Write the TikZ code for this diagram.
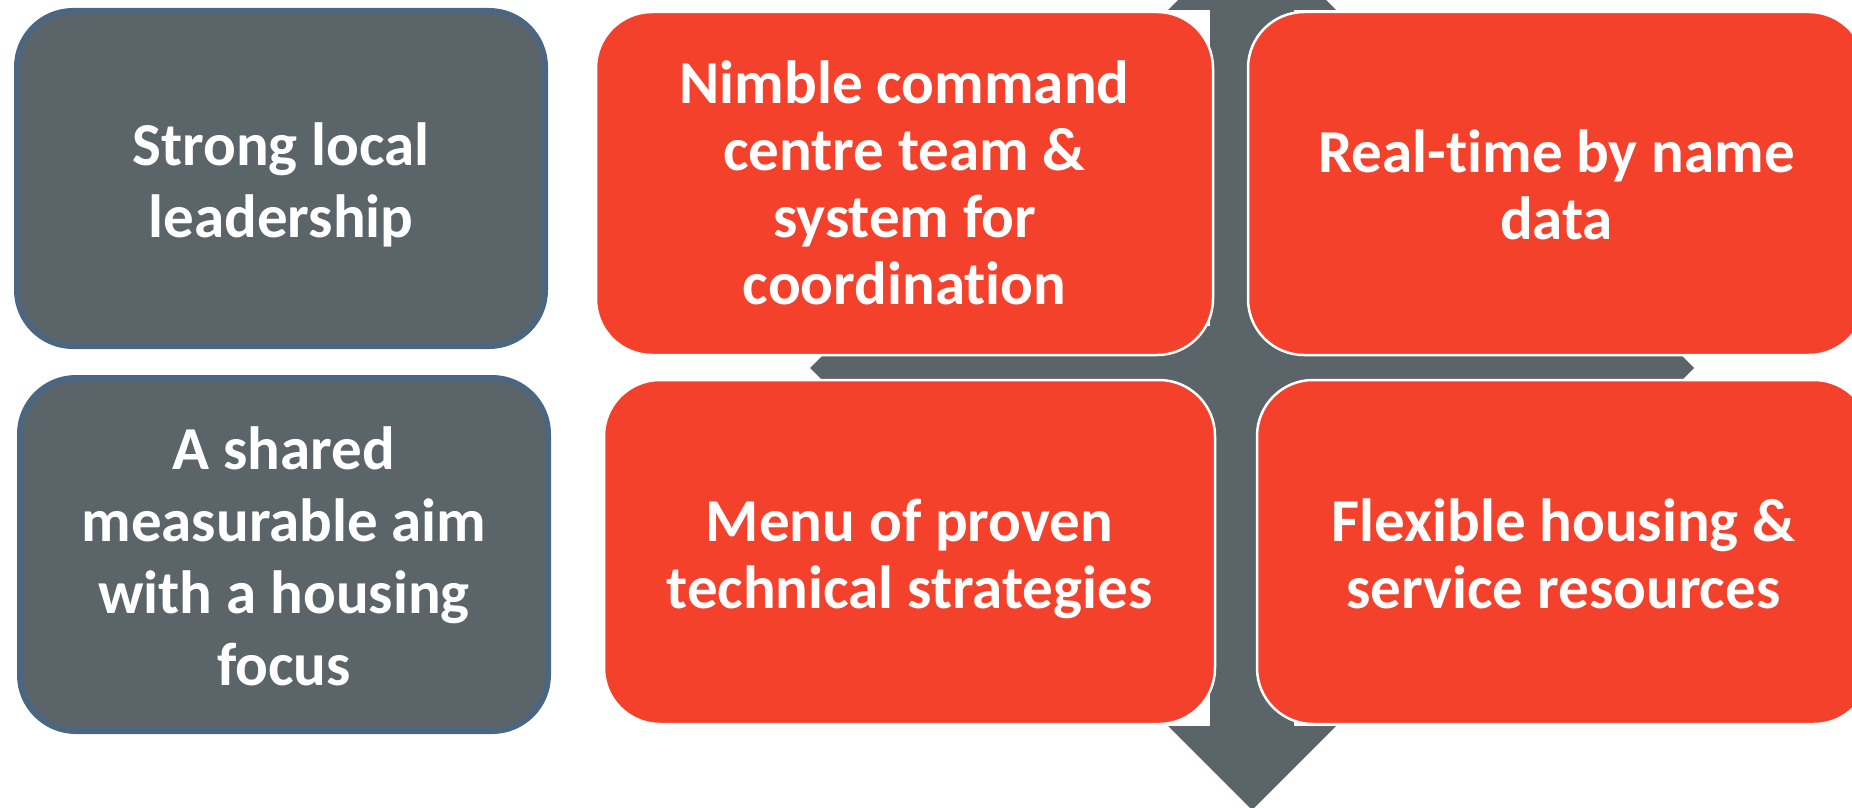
\documentclass[tikz,border=0pt]{standalone}
\usepackage{fontspec}
\setmainfont{Carlito}[RawFeature={-liga;-clig}]
\definecolor{boxgray}{HTML}{5B6469}
\definecolor{edgeblue}{HTML}{4A6680}
\definecolor{boxred}{HTML}{F4412B}
\begin{document}
\begin{tikzpicture}[x=1pt,y=-1pt,
        graybox/.style={draw=edgeblue,line width=6pt,fill=boxgray,rounded corners=56pt,
          text=white,font=\bfseries\fontsize{61pt}{72pt}\selectfont,align=center,inner sep=0pt},
        redbox/.style={draw=white,line width=2.5pt,fill=boxred,rounded corners=56pt,
          text=white,font=\bfseries\fontsize{61pt}{67pt}\selectfont,align=center,inner sep=0pt}]
        \useasboundingbox (0,0) rectangle (1852,808);
        \clip (0,0) rectangle (1852,808);
        \fill [boxgray] (1252,-74) -- (1336,10) -- (1294,10) -- (1294,326) -- (1610,326)
          -- (1610,284) -- (1694,368) -- (1610,452) -- (1610,410) -- (1294,410)
          -- (1294,726) -- (1336,726) -- (1252,810) -- (1168,726) -- (1210,726)
          -- (1210,410) -- (894,410) -- (894,452) -- (810,368) -- (894,284)
          -- (894,326) -- (1210,326) -- (1210,10) -- (1168,10) -- cycle;
        \node [graybox,minimum width=528pt,minimum height=335pt] (leader) at (281,178.5)
          {\rule{0pt}{58pt}Strong local\\leadership\rule[-13pt]{0pt}{0pt}};
        \node [graybox,minimum width=528pt,minimum height=353pt] (aim) at (284,554.5)
          {\rule{0pt}{58pt}A shared\\measurable aim\\with a housing\\focus\rule[-13pt]{0pt}{0pt}};
        \node [redbox,minimum width=617pt,minimum height=343pt] (command) at (904.5,183.5)
          {\rule{0pt}{55pt}Nimble command\\centre team \&\\system for\\coordination\rule[-15pt]{0pt}{0pt}};
        \node [redbox,minimum width=617pt,minimum height=343pt] (data) at (1556.5,183.5)
          {\rule{0pt}{57pt}Real-time by name\\data\rule[-13pt]{0pt}{0pt}};
        \node [redbox,minimum width=611pt,minimum height=344pt] (menu) at (909.5,552)
          {\rule{0pt}{58pt}Menu of proven\\technical strategies\rule[-12pt]{0pt}{0pt}};
        \node [redbox,minimum width=613pt,minimum height=344pt] (housing) at (1563.5,552)
          {\rule{0pt}{58pt}Flexible housing \&\\service resources\rule[-12pt]{0pt}{0pt}};
\end{tikzpicture}
\end{document}
